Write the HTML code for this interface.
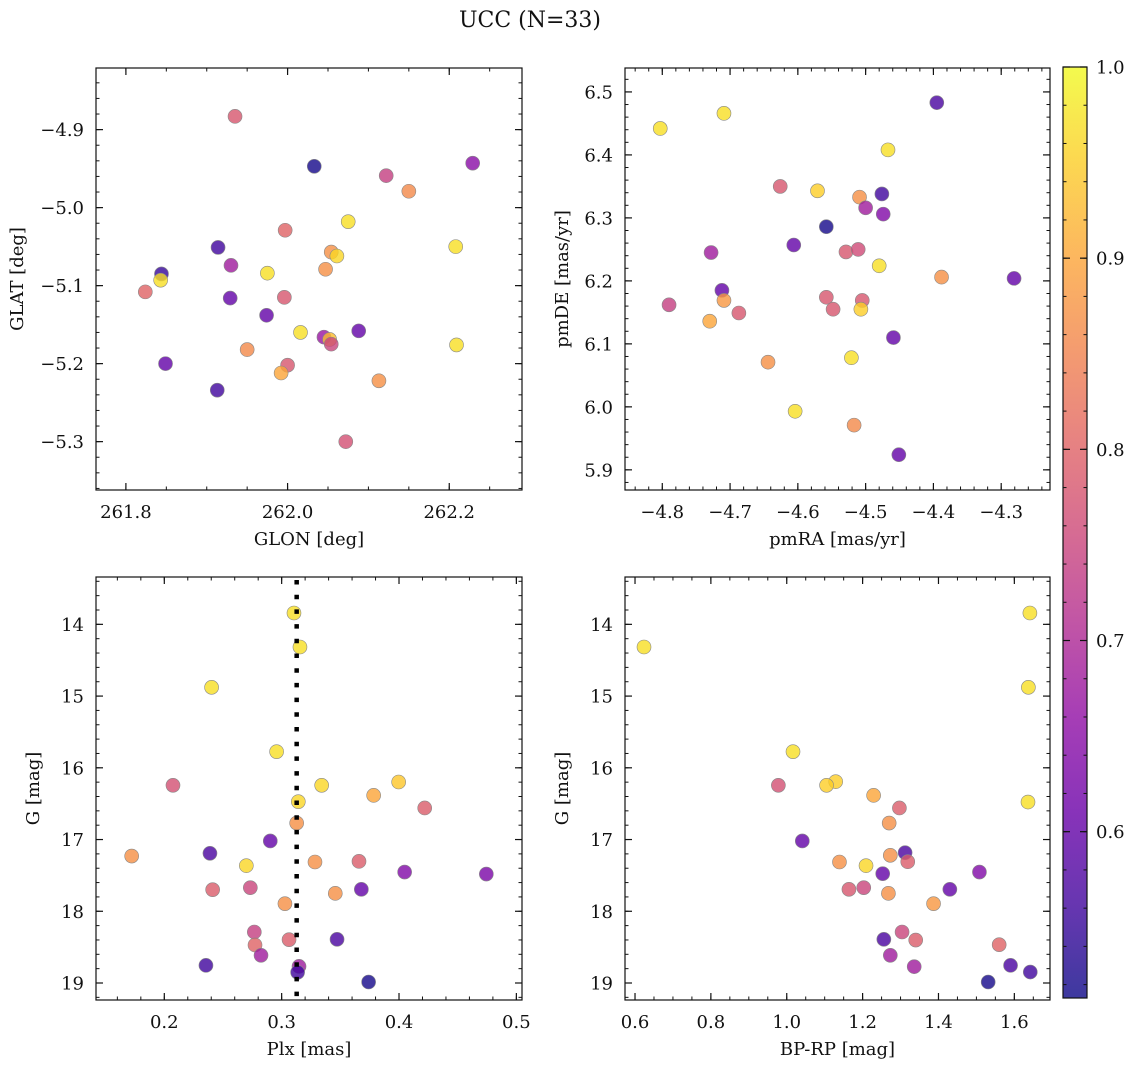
<!DOCTYPE html>
<html><head><meta charset="utf-8">
<style>
html,body{margin:0;padding:0;background:#fff;}
svg text{font-family:"DejaVu Serif","Liberation Serif",serif;fill:#111;}
</style></head>
<body>
<svg id="fig" width="1136" height="1067" viewBox="0 0 1136 1067" xmlns="http://www.w3.org/2000/svg">
<defs>
<linearGradient id="plasma" x1="0" y1="1" x2="0" y2="0">
<stop offset="0" stop-color="#0d0887"/><stop offset="0.1" stop-color="#41049d"/><stop offset="0.2" stop-color="#6a00a8"/><stop offset="0.3" stop-color="#8f0da4"/><stop offset="0.4" stop-color="#b12a90"/><stop offset="0.5" stop-color="#cc4778"/><stop offset="0.6" stop-color="#e16462"/><stop offset="0.7" stop-color="#f2844b"/><stop offset="0.8" stop-color="#fca636"/><stop offset="0.9" stop-color="#fcce25"/><stop offset="1" stop-color="#f0f921"/>
</linearGradient>
</defs>
<text x="530" y="27" font-size="22" text-anchor="middle">UCC (N=33)</text>
</svg>
<script>
// Panel 1: GLON / GLAT
const glon = [261.935,262.033,262.122,262.229,262.150,262.075,261.997,262.208,261.914,261.930,262.054,262.061,262.047,261.844,261.843,261.975,261.824,261.929,261.996,261.974,262.016,262.045,262.052,262.054,262.088,262.209,261.950,261.849,262.000,261.992,262.113,261.913,262.072];
const glat = [-4.883,-4.947,-4.959,-4.943,-4.979,-5.018,-5.029,-5.050,-5.051,-5.074,-5.057,-5.062,-5.079,-5.085,-5.093,-5.084,-5.108,-5.116,-5.115,-5.138,-5.160,-5.166,-5.169,-5.175,-5.158,-5.176,-5.182,-5.200,-5.202,-5.212,-5.222,-5.234,-5.300];
const prob1 = [0.78,0.52,0.74,0.65,0.86,0.97,0.80,0.97,0.56,0.68,0.87,0.96,0.87,0.55,0.97,0.97,0.80,0.60,0.78,0.60,0.97,0.67,0.93,0.75,0.60,0.97,0.86,0.60,0.78,0.90,0.87,0.56,0.77];
// Panel 2: pmRA / pmDE
const pmra = [-4.803,-4.709,-4.395,-4.467,-4.626,-4.571,-4.509,-4.476,-4.500,-4.474,-4.558,-4.606,-4.728,-4.529,-4.511,-4.480,-4.388,-4.281,-4.712,-4.709,-4.790,-4.730,-4.687,-4.558,-4.505,-4.548,-4.507,-4.459,-4.521,-4.644,-4.604,-4.517,-4.451];
const pmde = [6.442,6.466,6.483,6.408,6.350,6.343,6.333,6.338,6.316,6.306,6.286,6.257,6.245,6.246,6.250,6.224,6.206,6.204,6.185,6.169,6.162,6.136,6.149,6.174,6.169,6.155,6.155,6.110,6.078,6.071,5.993,5.971,5.924];
const prob2 = [0.97,0.97,0.57,0.97,0.78,0.95,0.87,0.56,0.68,0.64,0.52,0.60,0.68,0.78,0.76,0.97,0.87,0.60,0.60,0.88,0.74,0.90,0.78,0.78,0.78,0.78,0.95,0.60,0.97,0.87,0.97,0.86,0.60];
// Panel 3: Plx / G
const plx = [0.3105,0.3156,0.2403,0.2957,0.2074,0.3341,0.3997,0.3784,0.4219,0.3142,0.3128,0.2903,0.1722,0.2389,0.2699,0.3284,0.3659,0.4048,0.4744,0.2733,0.2412,0.3679,0.3457,0.3028,0.2767,0.3063,0.3472,0.2773,0.2824,0.2355,0.3148,0.3136,0.3741];
const gmag3 = [13.842,14.316,14.878,15.775,16.244,16.244,16.198,16.384,16.560,16.472,16.770,17.020,17.230,17.192,17.364,17.313,17.304,17.453,17.481,17.671,17.699,17.694,17.750,17.894,18.289,18.396,18.391,18.470,18.614,18.754,18.768,18.851,18.986];
const prob3 = [0.97,0.97,0.97,0.97,0.77,0.96,0.94,0.90,0.79,0.96,0.87,0.60,0.87,0.57,0.96,0.87,0.79,0.64,0.63,0.75,0.79,0.60,0.87,0.87,0.74,0.79,0.57,0.80,0.68,0.56,0.68,0.56,0.52];
const plxMedian = [0.3128];
// Panel 4: BP-RP / G
const bprp = [0.6237,1.641,1.637,1.636,1.0165,0.9779,1.129,1.105,1.229,1.297,1.270,1.041,1.312,1.273,1.319,1.139,1.209,1.253,1.508,1.164,1.203,1.430,1.268,1.387,1.304,1.340,1.256,1.560,1.273,1.336,1.590,1.642,1.531];
const gmag4 = [14.316,13.842,14.878,16.477,15.775,16.244,16.193,16.244,16.384,16.560,16.770,17.020,17.183,17.220,17.309,17.313,17.364,17.476,17.453,17.694,17.671,17.694,17.750,17.894,18.289,18.401,18.391,18.466,18.614,18.772,18.754,18.847,18.986];
const prob4 = [0.97,0.97,0.97,0.97,0.97,0.77,0.95,0.95,0.90,0.79,0.87,0.60,0.57,0.87,0.79,0.87,0.96,0.60,0.64,0.78,0.75,0.60,0.87,0.88,0.75,0.79,0.57,0.80,0.68,0.68,0.57,0.56,0.52];
// Colorbar
const cbTicks = [0.6,0.7,0.8,0.9,1.0];
const cbMin = 0.513, cbMax = 1.0;

const NS = "http://www.w3.org/2000/svg";
const svg = document.getElementById('fig');
function mk(tag, attrs, parent){const e=document.createElementNS(NS,tag);for(const k in attrs)e.setAttribute(k,attrs[k]);(parent||svg).appendChild(e);return e;}

const stops=[[0,13,8,135],[0.1,65,4,157],[0.2,106,0,168],[0.3,143,13,164],[0.4,177,42,144],[0.5,204,71,120],[0.6,225,100,98],[0.7,242,132,75],[0.8,252,166,54],[0.9,252,206,37],[1,240,249,33]];
function plasma(v){let t=(v-cbMin)/(cbMax-cbMin);t=Math.max(0,Math.min(1,t));
 for(let i=1;i<stops.length;i++){if(t<=stops[i][0]){const a=stops[i-1],b=stops[i];const f=(t-a[0])/(b[0]-a[0]);
 return `rgb(${Math.round(a[1]+f*(b[1]-a[1]))},${Math.round(a[2]+f*(b[2]-a[2]))},${Math.round(a[3]+f*(b[3]-a[3]))})`;}}return 'rgb(240,249,33)';}

function fmt(v,d){let s=v.toFixed(d);if(v<0)s='\u2212'+s.slice(1);return s;}

function panel(c){
 const g=mk('g',{});
 
 
 const sx=v=>c.x0+(v-c.xmin)/(c.xmax-c.xmin)*(c.x1-c.x0);
 const sy=c.yinv?(v=>c.y0+(v-c.ymin)/(c.ymax-c.ymin)*(c.y1-c.y0)):(v=>c.y1-(v-c.ymin)/(c.ymax-c.ymin)*(c.y1-c.y0));
 const eps=1e-9;
 const nx0=Math.ceil(c.xmin/c.xminor-eps), nx1=Math.floor(c.xmax/c.xminor+eps);
 for(let n=nx0;n<=nx1;n++){const x=sx(n*c.xminor);
  mk('line',{x1:x,x2:x,y1:c.y1,y2:c.y1-3.5,stroke:'#111','stroke-width':1},g);mk('line',{x1:x,x2:x,y1:c.y0,y2:c.y0+3.5,stroke:'#111','stroke-width':1},g);}
 const ny0=Math.ceil(c.ymin/c.yminor-eps), ny1=Math.floor(c.ymax/c.yminor+eps);
 for(let n=ny0;n<=ny1;n++){const y=sy(n*c.yminor);
  mk('line',{x1:c.x0,x2:c.x0+3.5,y1:y,y2:y,stroke:'#111','stroke-width':1},g);mk('line',{x1:c.x1,x2:c.x1-3.5,y1:y,y2:y,stroke:'#111','stroke-width':1},g);}
 c.xticks.forEach(v=>{const x=sx(v);
  mk('line',{x1:x,x2:x,y1:c.y1,y2:c.y1-7,stroke:'#111','stroke-width':1.2},g);mk('line',{x1:x,x2:x,y1:c.y0,y2:c.y0+7,stroke:'#111','stroke-width':1.2},g);
  const t=mk('text',{x:x,y:c.y1+28,'font-size':18,'text-anchor':'middle'},g);t.textContent=fmt(v,c.xd);
  
  });
 c.yticks.forEach(v=>{const y=sy(v);
  mk('line',{x1:c.x0,x2:c.x0+7,y1:y,y2:y,stroke:'#111','stroke-width':1.2},g);mk('line',{x1:c.x1,x2:c.x1-7,y1:y,y2:y,stroke:'#111','stroke-width':1.2},g);
  const t=mk('text',{x:c.x0-12,y:y+6.5,'font-size':18,'text-anchor':'end'},g);t.textContent=fmt(v,c.yd);
  
  });
 c.xs.forEach((v,i)=>{const p=mk('circle',{cx:sx(v),cy:sy(c.ys[i]),r:7,fill:plasma(c.cs[i]),'fill-opacity':0.8,stroke:'#888','stroke-width':0.6},g);
  
  });
 if(c.vline!==undefined){const x=sx(c.vline);
  const l=mk('line',{x1:x,x2:x,y1:c.y0,y2:c.y1,stroke:'#000','stroke-width':4.5,'stroke-dasharray':'4.5,10.2','stroke-dashoffset':'-3'},g);
  
  }
 const fr=mk('rect',{x:c.x0,y:c.y0,width:c.x1-c.x0,height:c.y1-c.y0,fill:'none',stroke:'#111','stroke-width':1.2},g);
 
 
 const xl=mk('text',{x:(c.x0+c.x1)/2,y:c.y1+55,'font-size':18,'text-anchor':'middle'},g);xl.textContent=c.xlabel;
 
 
 const cx=c.x0-c.ylabOff,cy=(c.y0+c.y1)/2;
 const yl=mk('text',{x:cx,y:cy,'font-size':18,'text-anchor':'middle',transform:`rotate(-90 ${cx} ${cy})`},g);yl.textContent=c.ylabel;
 
 
}

panel({name:'glon-glat-panel',x0:96,x1:522,y0:68,y1:490,xmin:261.763,xmax:262.290,ymin:-5.362,ymax:-4.821,
 xticks:[261.8,262.0,262.2],yticks:[-4.9,-5.0,-5.1,-5.2,-5.3],xd:1,yd:1,xminor:0.05,yminor:0.02,
 xs:glon,ys:glat,cs:prob1,xlabel:'GLON [deg]',ylabel:'GLAT [deg]',ylabOff:73});
panel({name:'pm-panel',x0:625,x1:1050,y0:68,y1:490,xmin:-4.855,xmax:-4.228,ymin:5.868,ymax:6.538,
 xticks:[-4.8,-4.7,-4.6,-4.5,-4.4,-4.3],yticks:[5.9,6.0,6.1,6.2,6.3,6.4,6.5],xd:1,yd:1,xminor:0.02,yminor:0.02,
 xs:pmra,ys:pmde,cs:prob2,xlabel:'pmRA [mas/yr]',ylabel:'pmDE [mas/yr]',ylabOff:57});
panel({name:'plx-g-panel',x0:96,x1:522,y0:577,y1:1000,xmin:0.1418,xmax:0.5048,ymin:13.34,ymax:19.237,yinv:true,
 xticks:[0.2,0.3,0.4,0.5],yticks:[14,15,16,17,18,19],xd:1,yd:0,xminor:0.02,yminor:0.2,
 xs:plx,ys:gmag3,cs:prob3,xlabel:'Plx [mas]',ylabel:'G [mag]',ylabOff:57,vline:plxMedian[0]});
panel({name:'cmd-panel',x0:625,x1:1050,y0:577,y1:1000,xmin:0.5736,xmax:1.694,ymin:13.34,ymax:19.237,yinv:true,
 xticks:[0.6,0.8,1.0,1.2,1.4,1.6],yticks:[14,15,16,17,18,19],xd:1,yd:0,xminor:0.05,yminor:0.2,
 xs:bprp,ys:gmag4,cs:prob4,xlabel:'BP-RP [mag]',ylabel:'G [mag]',ylabOff:57});

// colorbar
(function(){
 const x0=1063,x1=1087,y0=67,y1=998;
 const g=mk('g',{});
 
 
 mk('rect',{x:x0,y:y0,width:x1-x0,height:y1-y0,fill:'url(#plasma)','fill-opacity':0.8},g);
 mk('rect',{x:x0,y:y0,width:x1-x0,height:y1-y0,fill:'none',stroke:'#111','stroke-width':1.2},g);
 const sy=v=>y1-(v-cbMin)/(cbMax-cbMin)*(y1-y0);
 for(let n=26;n<=50;n++){const y=sy(n*0.02);mk('line',{x1:x1,x2:x1-3.5,y1:y,y2:y,stroke:'#111','stroke-width':1},g);mk('line',{x1:x0,x2:x0+3.5,y1:y,y2:y,stroke:'#111','stroke-width':1},g);}
 cbTicks.forEach(v=>{const y=sy(v);
  mk('line',{x1:x1,x2:x1-7,y1:y,y2:y,stroke:'#111','stroke-width':1.2},g);mk('line',{x1:x0,x2:x0+7,y1:y,y2:y,stroke:'#111','stroke-width':1.2},g);
  const t=mk('text',{x:x1+9,y:y+6.5,'font-size':18},g);t.textContent=v.toFixed(1);
  
  });
})();
</script>
</body></html>
